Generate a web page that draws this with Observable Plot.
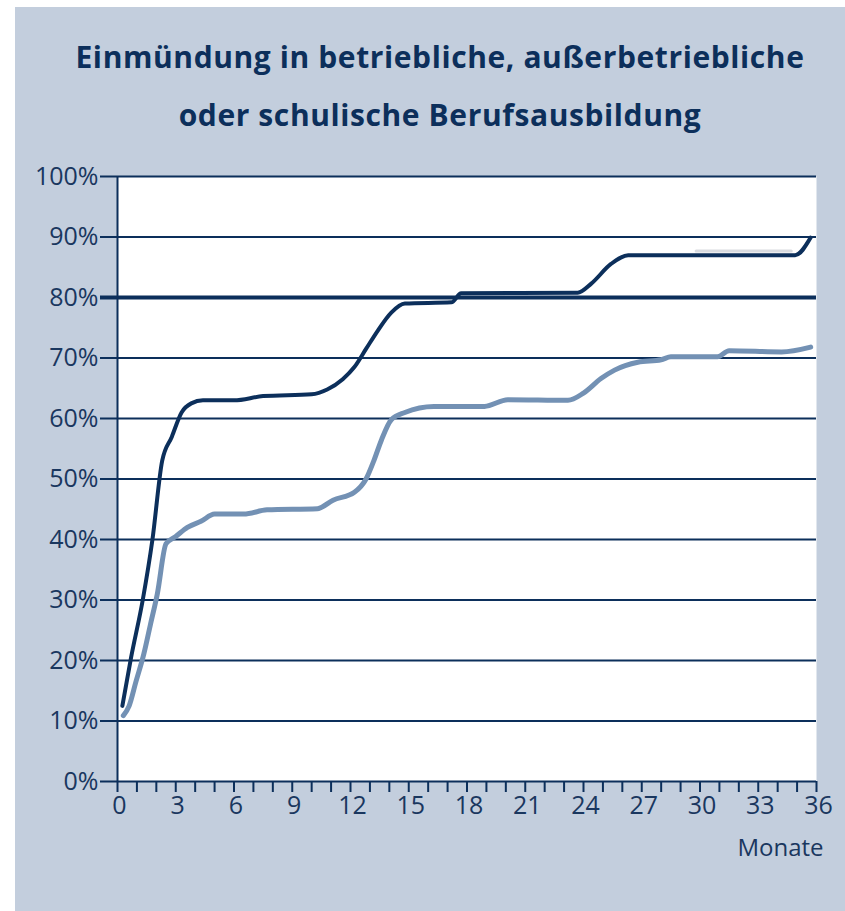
<!DOCTYPE html>
<html>
<head>
<meta charset="utf-8">
<script src="https://cdn.jsdelivr.net/npm/d3@7"></script>
<script src="https://cdn.jsdelivr.net/npm/@observablehq/plot@0.6"></script>
<style>
  body { margin: 0; background: #ffffff; width: 845px; height: 911px; overflow: hidden; position: relative; }
  #box { position: absolute; left: 15px; top: 7px; width: 830px; height: 904px; background: #c3cedd; }
  #title { position: absolute; left: 0; top: 28px; width: 880px; text-align: center;
           font-family: "Open Sans", sans-serif; font-weight: 700; font-size: 30px; line-height: 58px;
           color: #0c2f5b; letter-spacing: 0.6px; }
  #chart { position: absolute; left: 0; top: 150px; }
</style>
</head>
<body>
<div id="box"></div>
<div id="title">Einmündung in betriebliche, außerbetriebliche<br>oder schulische Berufsausbildung</div>
<div id="chart"></div>
<script>
// Months since start and share (%) — dark series
const darkMonths = [0.25, 0.7, 1.3, 1.8, 2.3, 2.8, 3.3, 3.8, 4.4, 6, 7.5, 10, 10.8, 11.6, 12.2, 12.8, 13.4, 14.1, 14.8, 17.2, 17.7, 23.7, 24.4, 25.4, 26.3, 34.9, 35.7];
const darkValues = [12.5, 20.5, 30, 40, 53, 57, 61, 62.5, 63, 63, 63.7, 64, 64.8, 66.5, 68.5, 71.5, 74.5, 77.5, 79, 79.2, 80.7, 80.8, 82.3, 85.5, 87, 87, 89.9];

// Light series
const lightMonths = [0.3, 0.6, 0.95, 1.35, 1.7, 2.05, 2.5, 3, 3.6, 4.3, 5, 6.5, 7.7, 10.3, 11.1, 12.2, 12.8, 13.2, 13.6, 14.1, 14.8, 16.3, 18, 18.9, 20.1, 23.2, 24, 24.9, 25.6, 26.8, 28, 28.5, 30.9, 31.5, 34.2, 35.7];
const lightValues = [10.9, 12.5, 16.5, 21, 26, 31, 39.3, 40.5, 42, 43, 44.2, 44.2, 44.9, 45.1, 46.5, 47.8, 50, 53, 56.5, 59.8, 61, 62, 62, 62, 63.1, 63, 64.2, 66.6, 68, 69.3, 69.7, 70.2, 70.2, 71.2, 71, 71.8];

// Faint grey remnant segment
const greyMonths = [29.8, 34.7];
const greyValues = [87.7, 87.7];

const xTickLabels = [0, 3, 6, 9, 12, 15, 18, 21, 24, 27, 30, 33, 36];
const xTickMarks = d3.range(0, 37);
const yTicks = [0, 10, 20, 30, 40, 50, 60, 70, 80, 90, 100];

const navy = "#0c2f5b";
const light = "#7391b4";
const textColor = "#1a375f";

const dark = darkMonths.map((m, i) => ({m, v: darkValues[i]}));
const lite = lightMonths.map((m, i) => ({m, v: lightValues[i]}));
const grey = greyMonths.map((m, i) => ({m, v: greyValues[i]}));

const chart = Plot.plot({
  width: 845,
  height: 761,
  marginLeft: 117,
  marginRight: 29,
  marginTop: 26,
  marginBottom: 130,
  style: {background: "transparent", fontFamily: "'Open Sans', sans-serif", color: textColor},
  x: {domain: [0, 36]},
  y: {domain: [0, 100]},
  marks: [
    Plot.frame({fill: "white", stroke: null}),
    Plot.ruleY(yTicks, {y: d => d, stroke: navy, strokeWidth: d => d === 80 ? 4 : 2, insetLeft: -17}),
    Plot.ruleX([0], {stroke: navy, strokeWidth: 2}),
    Plot.axisX({ticks: xTickMarks, tickSize: 11, tickFormat: () => "", stroke: navy, strokeWidth: 2, label: null}),
    Plot.axisX({ticks: xTickLabels, tickSize: 0, tickPadding: 15, fontSize: 25, fill: textColor, dx: 2, label: null}),
    Plot.axisY({ticks: yTicks, tickSize: 0, tickPadding: 19, fontSize: 25, fill: textColor, tickFormat: d => d + "%", label: null}),
    Plot.text(["Monate"], {frameAnchor: "bottom-right", dx: 7, dy: 67, fontSize: 24, fill: textColor, textAnchor: "end", lineAnchor: "middle"}),
    Plot.line(grey, {x: "m", y: "v", stroke: "#d9dbe0", strokeWidth: 3}),
    Plot.line(lite, {x: "m", y: "v", stroke: light, strokeWidth: 5, curve: "monotone-x"}),
    Plot.line(dark, {x: "m", y: "v", stroke: navy, strokeWidth: 4, curve: "monotone-x"})
  ]
});
document.getElementById("chart").appendChild(chart);
</script>
</body>
</html>
